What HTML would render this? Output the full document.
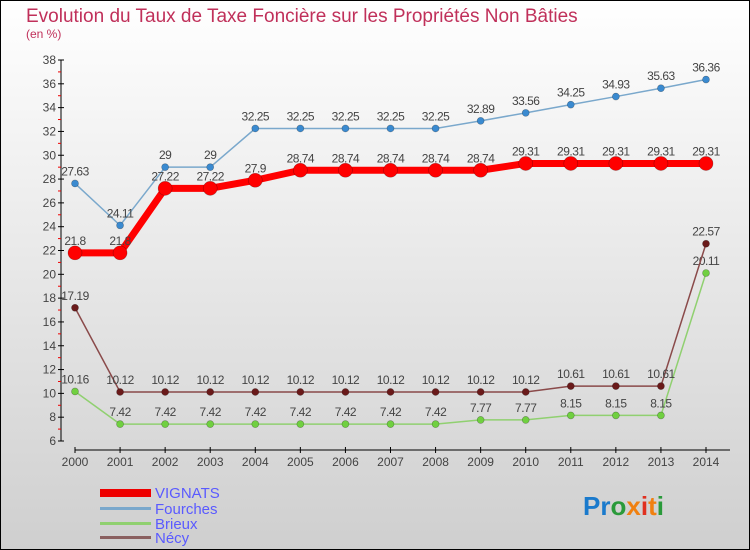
<!DOCTYPE html>
<html><head><meta charset="utf-8"><style>
body{margin:0}
svg{display:block;font-family:"Liberation Sans",sans-serif}
</style></head><body>
<svg id="c" width="750" height="550" xmlns="http://www.w3.org/2000/svg">
<defs><linearGradient id="bg" x1="0" y1="0" x2="0" y2="1"><stop offset="0" stop-color="#ffffff"/><stop offset="1" stop-color="#cfcfcf"/></linearGradient></defs>
<rect x="0.5" y="0.5" width="749" height="549" fill="url(#bg)" stroke="#000"/>
<text x="26" y="22" font-size="19" fill="#c0305a">Evolution du Taux de Taxe Foncière sur les Propriétés Non Bâties</text>
<text x="26" y="38" font-size="12" fill="#c0305a">(en %)</text>
<g id="axes"></g>
<g id="series"></g>
<g id="legend">
<rect x="100" y="489" width="51" height="8" fill="#e00"/>
<text x="155" y="498" font-size="15" fill="#5a5aff">VIGNATS</text>
<rect x="100" y="507" width="51" height="3" fill="#7aa8cc"/>
<text x="155" y="514" font-size="15" fill="#5a5aff">Fourches</text>
<rect x="100" y="522" width="51" height="3" fill="#90d070"/>
<text x="155" y="529" font-size="15" fill="#5a5aff">Brieux</text>
<rect x="100" y="536" width="51" height="3" fill="#8a6060"/>
<text x="155" y="543" font-size="15" fill="#5a5aff">Nécy</text>
</g>
<text x="583" y="515" font-size="26" font-weight="bold"><tspan fill="#1a7acc">Pr</tspan><tspan fill="#2a9a3a">o</tspan><tspan fill="#f08010">x</tspan><tspan fill="#e03020">i</tspan><tspan fill="#f08010">t</tspan><tspan fill="#2a9a3a">i</tspan></text>
</svg>
<script>
const years=["2000","2001","2002","2003","2004","2005","2006","2007","2008","2009","2010","2011","2012","2013","2014"];
const yTicks=[6,8,10,12,14,16,18,20,22,24,26,28,30,32,34,36,38];
const vignats=[21.8,21.8,27.22,27.22,27.9,28.74,28.74,28.74,28.74,28.74,29.31,29.31,29.31,29.31,29.31];
const fourches=[27.63,24.11,29,29,32.25,32.25,32.25,32.25,32.25,32.89,33.56,34.25,34.93,35.63,36.36];
const brieux=[10.16,7.42,7.42,7.42,7.42,7.42,7.42,7.42,7.42,7.77,7.77,8.15,8.15,8.15,20.11];
const necy=[17.19,10.12,10.12,10.12,10.12,10.12,10.12,10.12,10.12,10.12,10.12,10.61,10.61,10.61,22.57];
const NS="http://www.w3.org/2000/svg";
const X=i=>75+i*(706-75)/(years.length-1);
const Y=v=>441-(v-6)*(441-60)/32;
function mk(t,a,p){const e=document.createElementNS(NS,t);for(const k in a)e.setAttribute(k,a[k]);p.appendChild(e);return e;}
const ax=document.getElementById('axes'),sg=document.getElementById('series');
const yl=mk('line',{x1:61,y1:60,x2:61,y2:441,stroke:'#000'},ax);


yTicks.forEach((v,i)=>{
 mk('line',{x1:58,y1:Y(v),x2:64,y2:Y(v),stroke:'#000'},ax);
 if(i<yTicks.length-1)mk('line',{x1:58,y1:Y(v+1),x2:61,y2:Y(v+1),stroke:'#e00'},ax);
 const t=mk('text',{x:56,y:Y(v)+4,'font-size':12,'text-anchor':'end',fill:'#444'},ax);t.textContent=v;
 
 
});
const xl=mk('line',{x1:75,y1:450,x2:730,y2:450,stroke:'#000'},ax);


years.forEach((y,i)=>{
 mk('line',{x1:X(i),y1:447,x2:X(i),y2:453,stroke:'#000'},ax);
 const t=mk('text',{x:X(i),y:466,'font-size':12,'text-anchor':'middle',fill:'#444'},ax);t.textContent=y;
 
 
});
function series(name,data,color,w,r,dot){
 const g=mk('g',{},sg);
 
 
 mk('polyline',{points:data.map((v,i)=>X(i)+','+Y(v)).join(' '),fill:'none',stroke:color,'stroke-width':w,'stroke-linejoin':'round'},g);
 data.forEach((v,i)=>{
  const c=mk('circle',{cx:X(i),cy:Y(v),r:r,fill:dot,stroke:'#00000055','stroke-width':0.6},g);
  
  
  const t=mk('text',{x:X(i),y:Y(v)-8,'font-size':12,'text-anchor':'middle',fill:'#444','letter-spacing':'-0.5'},g);t.textContent=v;
  
  
 });
}
series('fourches',fourches,'#7aa8cc',1.5,3.5,'#3a8ad0');
series('brieux',brieux,'#90d070',1.5,3.5,'#70d040');
series('necy',necy,'#8a4a4a',1.5,3.5,'#6a1a1a');
series('vignats',vignats,'#f00',7,7,'#f00');
</script>
</body></html>
